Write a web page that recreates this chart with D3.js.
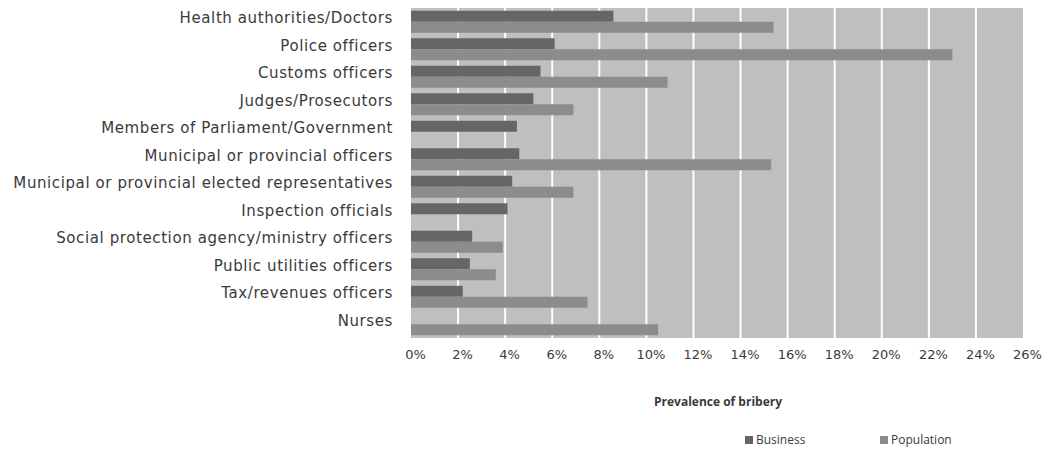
<!DOCTYPE html>
<html>
<head>
<meta charset="utf-8">
<script src="https://cdn.jsdelivr.net/npm/d3@7"></script>
<style>
  body { margin: 0; background: #fff; }
  text { font-family: "DejaVu Sans", sans-serif; fill: #3a3a3a; }
</style>
</head>
<body>
<svg id="chart" width="1043" height="453"></svg>
<script>
// categories top to bottom
const categories = [
  "Health authorities/Doctors",
  "Police officers",
  "Customs officers",
  "Judges/Prosecutors",
  "Members of Parliament/Government",
  "Municipal or provincial officers",
  "Municipal or provincial elected representatives",
  "Inspection officials",
  "Social protection agency/ministry officers",
  "Public utilities officers",
  "Tax/revenues officers",
  "Nurses"
];
const seriesNames = ["Business", "Population"];
// prevalence (%), null = no bar
const business = [8.6, 6.1, 5.5, 5.2, 4.5, 4.6, 4.3, 4.1, 2.6, 2.5, 2.2, null];
const population = [15.4, 23.0, 10.9, 6.9, null, 15.3, 6.9, null, 3.9, 3.6, 7.5, 10.5];
const tickValues = [0, 2, 4, 6, 8, 10, 12, 14, 16, 18, 20, 22, 24, 26];
const colors = { Business: "#666666", Population: "#8c8c8c" };

const svg = d3.select("#chart");
const margin = { top: 8, right: 20, bottom: 115, left: 411 };
const width = 1043 - margin.left - margin.right;
const height = 453 - margin.top - margin.bottom;

const g = svg.append("g").attr("transform", `translate(${margin.left},${margin.top})`);

const x = d3.scaleLinear().domain([0, 26]).range([0, width]);
const y = d3.scaleBand().domain(categories).range([0, height])
  .paddingInner(0.2).paddingOuter(0.1);
const ySub = d3.scaleBand().domain(seriesNames).range([0, y.bandwidth()]);

// plot background
g.append("rect")
  .attr("width", width).attr("height", height)
  .attr("fill", "#bfbfbf");

// gridlines
g.selectAll("line.grid").data(tickValues.slice(1, -1))
  .join("line")
  .attr("class", "grid")
  .attr("x1", d => x(d)).attr("x2", d => x(d))
  .attr("y1", 0).attr("y2", height)
  .attr("stroke", "#fff").attr("stroke-width", 2);

// bars
const rows = categories.map((c, i) => ({ cat: c, Business: business[i], Population: population[i] }));
const groups = g.selectAll("g.row").data(rows)
  .join("g")
  .attr("class", "row")
  .attr("transform", d => `translate(0,${y(d.cat)})`);

groups.selectAll("rect")
  .data(d => seriesNames.filter(s => d[s] != null).map(s => ({ s, v: d[s] })))
  .join("rect")
  .attr("x", 0)
  .attr("y", d => ySub(d.s))
  .attr("width", d => x(d.v))
  .attr("height", ySub.bandwidth())
  .attr("fill", d => colors[d.s]);

// category labels
const yAxis = d3.axisLeft(y).tickSize(0).tickPadding(18);
g.append("g").call(yAxis)
  .call(a => a.select(".domain").remove())
  .selectAll("text")
  .style("font-size", "15px")
  .style("letter-spacing", "0.6px")
  .attr("dy", "0.1em");

// x axis labels
const xAxis = d3.axisBottom(x).tickValues(tickValues)
  .tickFormat(d => d + "%").tickSize(0).tickPadding(12);
g.append("g").attr("transform", `translate(0,${height})`).call(xAxis)
  .call(a => a.select(".domain").remove())
  .selectAll("text")
  .style("font-size", "13px")
  .attr("dx", 4);

// axis title
svg.append("text")
  .attr("x", 718)
  .attr("y", 406)
  .attr("text-anchor", "middle")
  .style("font-family", "'Open Sans', sans-serif")
  .style("font-size", "12px")
  .style("font-weight", "bold")
  .text("Prevalence of bribery");

// legend
const legend = svg.append("g").attr("transform", "translate(745,440)");
seriesNames.forEach((s, i) => {
  const lg = legend.append("g").attr("transform", `translate(${i * 135},0)`);
  lg.append("rect").attr("x", 0).attr("y", -4).attr("width", 8).attr("height", 8)
    .attr("fill", colors[s]);
  lg.append("text").attr("x", 11).attr("y", 0).attr("dy", "0.35em")
    .style("font-family", "'Open Sans', sans-serif")
    .style("font-size", "12px").text(s);
});
</script>
</body>
</html>
